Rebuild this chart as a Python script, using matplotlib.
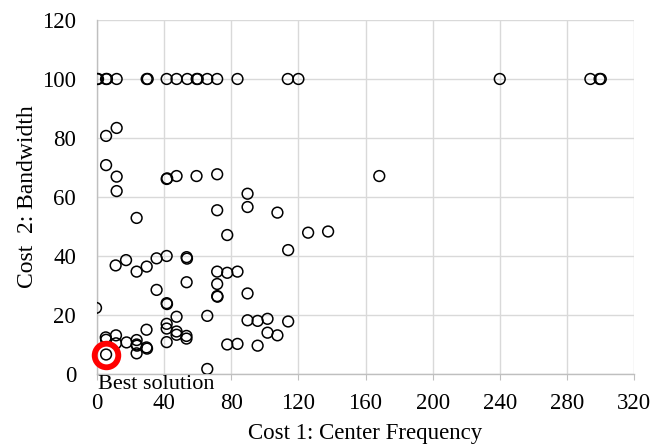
import matplotlib
matplotlib.use('Agg')
import matplotlib.pyplot as plt

plt.rcParams['font.family'] = ['Liberation Serif', 'DejaVu Serif']

# solutions: cost 1 (center frequency) vs cost 2 (bandwidth)
cost1 = [0, 0.6, 5.4, 5.9, 11.7, 29.6, 30.2, 41.5, 47.4, 53.8, 59.4, 60.0, 65.7, 71.6, 83.7,
         113.7, 120, 240, 294, 299.5, 300.2,
         5.4, 11.7, 5.4, 11.7, 11.7, 41.5, 41.8, 47.4, 59.3, 71.6, 168.2,
         89.7, 89.7, 71.6, 107.5, 23.6, 77.6, 125.8, 137.7, 113.9,
         11.1, 17.3, 23.6, 29.6, 35.5, 41.5, 53.4, 53.6, 71.6, 77.6, 83.7,
         71.6, 53.4, 71.6, 71.8, 89.7, 35.5, 41.5, 41.7, -0.6,
         47.4, 65.7, 89.7, 95.7, 101.6, 113.9, 101.6, 107.5,
         5.2, 5.4, 11.3, 11.3, 17.6, 23.6, 23.6, 23.8, 23.6, 29.5, 29.5, 29.8,
         41.5, 41.5, 47.4, 47.4, 53.3, 53.3, 41.5, 77.6, 83.7, 95.7, 65.7,
         5.4]
cost2 = [100, 100, 100, 100, 100, 100, 100, 100, 100, 100, 100, 100, 100, 100, 100,
         100, 100, 100, 100, 100, 100,
         80.7, 83.4, 70.8, 66.9, 62.0, 66.1, 66.3, 67.1, 67.1, 67.7, 67.1,
         61.1, 56.6, 55.5, 54.7, 52.9, 47.1, 47.9, 48.3, 42.0,
         36.8, 38.6, 34.7, 36.4, 39.2, 40.0, 39.6, 39.1, 34.7, 34.3, 34.7,
         30.5, 31.1, 26.4, 26.2, 27.3, 28.5, 24.0, 23.7, 22.4,
         19.4, 19.7, 18.2, 18.0, 18.7, 17.8, 14.0, 13.1,
         12.4, 11.6, 13.1, 10.4, 10.7, 11.5, 10.0, 9.6, 7.0, 15.0, 9.0, 8.6,
         17.0, 15.4, 14.4, 13.3, 12.9, 12.0, 10.8, 10.0, 10.2, 9.6, 1.7,
         6.6]

best = (5.4, 6.4)

fig = plt.figure(figsize=(6.65, 4.44), dpi=100)
ax = fig.add_axes([0.1459, 0.1577, 0.8075, 0.7973])

ax.scatter(cost1, cost2, s=60, facecolors='none', edgecolors='black', linewidths=1.1, zorder=3)
ax.plot(best[0], best[1], 'o', ms=17, mfc='none', mec='#ff0000', mew=4.2, zorder=4, clip_on=False)
ax.text(0.6, -0.4, 'Best solution', fontsize=16, va='top', ha='left', clip_on=False, zorder=5)

ax.set_xlim(0, 320)
ax.set_ylim(0, 120)
ax.set_xticks(range(0, 321, 40))
ax.set_yticks(range(0, 121, 20))
ax.grid(True, color='#d9d9d9', linewidth=1.0)
ax.set_axisbelow(True)

for s in ['top', 'right']:
    ax.spines[s].set_visible(False)
for s in ['left', 'bottom']:
    ax.spines[s].set_color('#bfbfbf')
    ax.spines[s].set_linewidth(1.0)

ax.tick_params(axis='x', direction='out', length=4, color='#bfbfbf', pad=10, labelsize=16.5)
ax.tick_params(axis='y', length=0, pad=15, labelsize=16.5)

ax.set_xlabel('Cost 1: Center Frequency', fontsize=16.5, labelpad=6)
ax.set_ylabel('Cost  2: Bandwidth', fontsize=17, labelpad=3)

fig.savefig('out.png', dpi=100)
